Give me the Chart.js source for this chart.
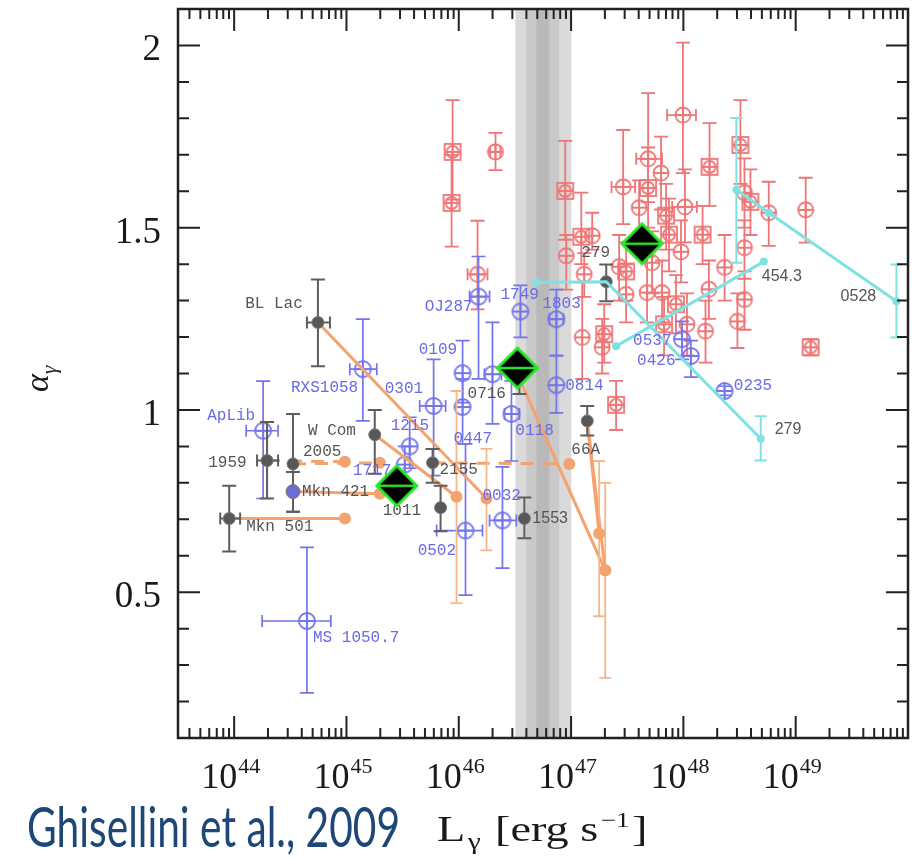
<!DOCTYPE html>
<html>
<head>
<meta charset="utf-8">
<script src="https://cdn.jsdelivr.net/npm/chart.js@4.4.1/dist/chart.umd.min.js"></script>
<style>
  html, body { margin: 0; padding: 0; background: #fff; }
  #wrap { position: relative; width: 922px; height: 859px; }
</style>
</head>
<body>
<div id="wrap"><canvas id="myChart"></canvas></div>
<script>
// x axis is log10(L_gamma), y axis is alpha_gamma
const xMin = 43.5, xMax = 50;
const yMin = 0.1, yMax = 2.1;
const xTickVals = [44, 45, 46, 47, 48, 49];
const yTickVals = [0.5, 1, 1.5, 2];
const yTickLabels = ['0.5', '1', '1.5', '2'];

// grey band (log10 L)
const bandLo = [46.504, 46.602, 46.691];
const bandHi = [47.002, 46.895, 46.806];

// FSRQs (red)
const redX  = [45.945, 45.936, 46.327, 46.167, 46.948, 46.957, 47.091, 47.188, 47.117, 47.099, 47.295, 47.277, 47.401, 47.428, 47.464, 47.490, 47.490, 47.606, 47.686, 47.686, 47.801, 47.846, 47.872, 47.677, 47.721, 47.810, 47.934, 47.979, 47.996, 48.014, 48.171, 48.233, 48.367, 48.508, 48.544, 48.597, 48.544, 48.760, 49.089, 49.133, 48.544, 48.481, 48.197, 48.032, 47.828, 48.227];
const redY  = [1.708, 1.568, 1.708, 1.372, 1.601, 1.423, 1.475, 1.478, 1.372, 1.199, 1.208, 1.172, 1.014, 1.393, 1.612, 1.317, 1.380, 1.555, 1.689, 1.609, 1.650, 1.533, 1.481, 1.322, 1.404, 1.322, 1.290, 1.434, 1.809, 1.557, 1.481, 1.667, 1.391, 1.727, 1.596, 1.571, 1.445, 1.541, 1.549, 1.172, 1.303, 1.243, 1.216, 1.235, 1.235, 1.331];
const redLo = [1.577, 1.448, 1.658, 1.276, 1.467, 1.330, 1.400, 1.440, 1.310, 1.085, 1.130, 1.100, 0.945, 1.300, 1.510, 1.240, 1.300, 1.470, 1.570, 1.500, 1.550, 1.440, 1.380, 1.240, 1.320, 1.240, 1.210, 1.350, 1.650, 1.460, 1.400, 1.560, 1.300, 1.620, 1.500, 1.480, 1.360, 1.450, 1.459, 1.150, 1.220, 1.170, 1.130, 1.150, 1.150, 1.250];
const redHi = [1.850, 1.700, 1.760, 1.519, 1.738, 1.480, 1.596, 1.541, 1.430, 1.350, 1.290, 1.250, 1.080, 1.480, 1.768, 1.400, 1.460, 1.630, 1.869, 1.720, 1.750, 1.620, 1.580, 1.420, 1.490, 1.410, 1.370, 1.520, 2.008, 1.660, 1.560, 1.787, 1.480, 1.850, 1.690, 1.660, 1.520, 1.626, 1.637, 1.194, 1.380, 1.320, 1.300, 1.320, 1.310, 1.410];
const redXLo = [null, null, 46.28, 46.078, null, null, null, null, null, null, null, null, null, null, 47.36, null, null, null, 47.58, null, null, null, null, null, null, null, null, null, 47.855, 47.90, null, null, null, null, null, null, null, null, null, null, null, null, null, null, null, null];
const redXHi = [null, null, 46.37, 46.256, null, null, null, null, null, null, null, null, null, null, 47.57, null, null, null, 47.81, null, null, null, null, null, null, null, null, null, 48.112, 48.12, null, null, null, null, null, null, null, null, null, null, null, null, null, null, null, null];
const redSquare = [1, 1, 0, 0, 1, 0, 1, 0, 0, 0, 1, 0, 1, 0, 0, 0, 1, 0, 0, 1, 0, 1, 1, 0, 0, 0, 1, 0, 0, 0, 1, 1, 0, 1, 0, 1, 0, 0, 0, 1, 0, 0, 0, 0, 1, 0];

// BL Lacs (blue)
const blueX  = [44.258, 44.648, 45.146, 45.776, 46.034, 46.034, 45.563, 45.519, 46.176, 46.549, 46.300, 46.469, 46.389, 46.060, 46.869, 46.869, 47.988, 48.067, 48.367];
const blueY  = [0.943, 0.421, 1.112, 1.011, 1.101, 1.008, 0.900, 0.850, 1.311, 1.270, 1.098, 0.989, 0.697, 0.669, 1.249, 1.068, 1.194, 1.148, 1.052];
const blueLo = [0.757, 0.224, 0.970, 0.820, 1.020, 0.907, 0.840, 0.800, 1.085, 1.199, 0.962, 0.860, 0.566, 0.492, 1.148, 0.992, 1.139, 1.090, 1.040];
const blueHi = [1.079, 0.623, 1.249, 1.139, 1.190, 1.085, 0.980, 0.900, 1.421, 1.342, 1.240, 1.080, 0.844, 0.907, 1.330, 1.150, 1.243, 1.190, 1.065];
const blueXLo = [44.107, 44.249, 45.030, 45.652, null, null, null, null, 46.096, null, 46.229, 46.407, 46.274, 45.803, 46.807, null, null, null, null];
const blueXHi = [44.391, 44.861, 45.270, 45.883, null, null, null, null, 46.274, null, 46.380, 46.540, 46.513, 46.211, 46.931, null, null, null, null];

// TeV / other sources (dark grey), last one is Mkn 421
const greyX  = [44.746, 45.252, 44.293, 44.524, 43.956, 45.767, 45.838, 46.584, 47.144, 47.313, 46.540, 44.524];
const greyY  = [1.240, 0.932, 0.861, 0.852, 0.702, 0.855, 0.732, 0.702, 0.970, 1.352, 1.085, 0.776];
const greyLo = [1.120, 0.825, 0.757, 0.721, 0.612, 0.800, 0.667, 0.648, 0.930, 1.298, 1.044, 0.721];
const greyHi = [1.358, 1.000, 0.967, 0.989, 0.792, 0.893, 0.792, 0.760, 1.011, 1.399, 1.130, 0.830];
const greyXLo = [44.648, null, 44.204, null, 43.876, null, null, null, null, null, null, null];
const greyXHi = [44.853, null, 44.391, null, 44.053, null, null, null, null, null, null, null];

// orange tracks: from a source to a second state
const orFromX = [44.746, 45.252, 44.293, 44.524, 45.767, 44.524, 43.956, 47.144, 47.144, 46.540];
const orFromY = [1.240, 0.932, 0.861, 0.852, 0.855, 0.776, 0.702, 0.970, 0.970, 1.085];
const orToX   = [46.247, 45.980, 44.986, 45.297, 46.984, 45.297, 44.986, 47.250, 47.304, 47.304];
const orToY   = [0.757, 0.762, 0.858, 0.855, 0.852, 0.770, 0.702, 0.661, 0.560, 0.560];
const orToLo  = [0.615, 0.470, null, null, null, null, null, 0.434, 0.265, null];
const orToHi  = [0.893, 1.052, null, null, null, null, null, 0.860, 0.800, null];
const orDashed = [0, 0, 1, 1, 1, 0, 0, 0, 0, 0];

// cyan tracks
const cy279X = [46.691, 47.313, 48.689];
const cy279Y = [1.350, 1.352, 0.921];
const cy279Lo = [null, null, 0.861];
const cy279Hi = [null, null, 0.983];
const cy454X = [47.401, 48.716];
const cy454Y = [1.175, 1.407];
const cy0528X = [48.472, 48.760, 49.897];
const cy0528Y = [1.604, 1.541, 1.298];
const cy0528Lo = [1.404, null, 1.199];
const cy0528Hi = [1.801, null, 1.399];

// averages (black diamonds)
const diaX = [45.448, 46.522, 47.632];
const diaY = [0.792, 1.115, 1.456];

// source names: g = grey mono, b = blue mono, s = grey sans
const labText = ['BL Lac', 'W Com', '2005', '1959', 'Mkn 421', 'Mkn 501', '1011', '2155', '0716', '66A', '279',
  '1553', '454.3', '0528', '279',
  'ApLib', 'RXS1058', 'MS 1050.7', '0301', '1215', '1717', '0109', 'OJ287', '1749', '0447', '0118', '0032', '0502', '1803', '0814', '0537', '0426', '0235'];
const labX = [44.098, 44.657, 44.613, 43.769, 44.604, 44.107, 45.323, 45.829, 46.078, 47.002, 47.091,
  46.655, 48.698, 49.400, 48.813,
  43.760, 44.506, 44.702, 45.341, 45.394, 45.057, 45.643, 45.696, 46.371, 45.954, 46.504, 46.211, 45.634, 46.744, 46.948, 47.552, 47.588, 48.449];
const labY = [1.292, 0.943, 0.885, 0.855, 0.776, 0.680, 0.724, 0.836, 1.044, 0.891, 1.432,
  0.702, 1.366, 1.311, 0.945,
  0.984, 1.060, 0.374, 1.057, 0.956, 0.833, 1.164, 1.284, 1.317, 0.921, 0.943, 0.765, 0.615, 1.292, 1.066, 1.189, 1.134, 1.066];
const labKind = ['g', 'g', 'g', 'g', 'g', 'g', 'g', 'g', 'g', 'g', 'g',
  's', 's', 's', 's',
  'b', 'b', 'b', 'b', 'b', 'b', 'b', 'b', 'b', 'b', 'b', 'b', 'b', 'b', 'b', 'b', 'b', 'b'];

const RED = '#ee7676';
const BLUE = '#7474ec';
const GREY = '#585858';
const ORANGE = '#f5a36e';
const CYAN = '#7ee2e2';

// marker images
function makeMarker(size, draw) {
  const c = document.createElement('canvas');
  c.width = size; c.height = size;
  const g = c.getContext('2d');
  draw(g, size / 2);
  return c;
}
const redCircle = makeMarker(20, function (g, m) {
  g.strokeStyle = RED; g.lineWidth = 1.8;
  g.beginPath(); g.arc(m, m, 7.5, 0, Math.PI * 2); g.stroke();
  g.beginPath(); g.moveTo(m - 7.5, m); g.lineTo(m + 7.5, m); g.moveTo(m, m - 7.5); g.lineTo(m, m + 7.5); g.stroke();
});
const redBox = makeMarker(20, function (g, m) {
  g.strokeStyle = RED; g.lineWidth = 1.8;
  g.strokeRect(m - 8, m - 8, 16, 16);
  g.beginPath(); g.arc(m, m, 6, 0, Math.PI * 2); g.stroke();
  g.beginPath(); g.moveTo(m - 8, m); g.lineTo(m + 8, m); g.moveTo(m, m - 8); g.lineTo(m, m + 8); g.stroke();
});
const blueCircle = makeMarker(22, function (g, m) {
  g.strokeStyle = BLUE; g.lineWidth = 1.8;
  g.beginPath(); g.arc(m, m, 8, 0, Math.PI * 2); g.stroke();
  g.beginPath(); g.moveTo(m - 8, m); g.lineTo(m + 8, m); g.moveTo(m, m - 8); g.lineTo(m, m + 8); g.stroke();
});
const diamond = makeMarker(48, function (g, m) {
  g.beginPath();
  g.moveTo(m, m - 20); g.lineTo(m + 20, m); g.lineTo(m, m + 20); g.lineTo(m - 20, m); g.closePath();
  g.fillStyle = '#000'; g.fill();
  g.strokeStyle = '#28e628'; g.lineWidth = 3; g.stroke();
  g.beginPath(); g.moveTo(m - 20, m); g.lineTo(m + 20, m); g.lineWidth = 2.5; g.stroke();
});

function pts(xs, ys) {
  return xs.map(function (x, i) { return { x: x, y: ys[i] }; });
}

const datasets = [];
datasets.push({
  label: 'average', data: pts(diaX, diaY), pointStyle: diamond, pointRadius: 22, order: 0, isDiamonds: true
});
[[cy279X, cy279Y, cy279Lo, cy279Hi, [4, 0, 4]], [cy454X, cy454Y, null, null, [4, 4]], [cy0528X, cy0528Y, cy0528Lo, cy0528Hi, [4, 4, 4]]]
  .forEach(function (t) {
    datasets.push({
      label: 'cyan', data: pts(t[0], t[1]), showLine: true, borderColor: CYAN, borderWidth: 3,
      pointRadius: t[4], pointStyle: 'circle', pointBackgroundColor: CYAN, pointBorderWidth: 0,
      errLo: t[2], errHi: t[3], errColor: CYAN, errWidth: 2, cap: 6, order: 1
    });
  });
datasets.push({
  label: 'grey', data: pts(greyX, greyY),
  pointStyle: 'circle', pointRadius: greyX.map(function (v, i) { return i === greyX.length - 1 ? 7 : 6; }),
  pointBackgroundColor: greyX.map(function (v, i) { return i === greyX.length - 1 ? '#6c6cd2' : GREY; }),
  pointBorderColor: '#777', pointBorderWidth: 1,
  errLo: greyLo, errHi: greyHi, xLo: greyXLo, xHi: greyXHi, errColor: '#5e5e5e', errWidth: 2, cap: 7, order: 2
});
orFromX.forEach(function (fx, i) {
  datasets.push({
    label: 'orange', data: [{ x: fx, y: orFromY[i] }, { x: orToX[i], y: orToY[i] }],
    showLine: true, borderColor: ORANGE, borderWidth: 3, borderDash: orDashed[i] ? [13, 9] : [],
    pointRadius: [0, 6], pointStyle: 'circle', pointBackgroundColor: ORANGE, pointBorderWidth: 0,
    errLo: [null, orToLo[i]], errHi: [null, orToHi[i]], errColor: '#f7b68a', errWidth: 1.8, cap: 6, order: 3
  });
});
datasets.push({
  label: 'BL Lacs', data: pts(blueX, blueY), pointStyle: blueCircle, pointRadius: 9,
  errLo: blueLo, errHi: blueHi, xLo: blueXLo, xHi: blueXHi, errColor: BLUE, errWidth: 1.7, cap: 7, order: 4
});
datasets.push({
  label: 'FSRQs', data: pts(redX, redY), pointRadius: 9,
  pointStyle: redSquare.map(function (s) { return s ? redBox : redCircle; }),
  errLo: redLo, errHi: redHi, xLo: redXLo, xHi: redXHi, errColor: RED, errWidth: 1.8, cap: 7, order: 5
});

function drawLabels(chart) {
  const ctx = chart.ctx, sx = chart.scales.x, sy = chart.scales.y;
  ctx.save();
  ctx.textBaseline = 'middle';
  ctx.textAlign = 'left';
  labText.forEach(function (t, i) {
    const k = labKind[i];
    ctx.font = k === 's' ? '16px "Liberation Sans"' : '16px "Liberation Mono"';
    ctx.fillStyle = k === 'b' ? '#6a6ae6' : '#555';
    ctx.fillText(t, sx.getPixelForValue(labX[i]), sy.getPixelForValue(labY[i]));
  });
  ctx.restore();
}

const errorBars = {
  id: 'errorBars',
  beforeDatasetsDraw(chart) {
    const ctx = chart.ctx, a = chart.chartArea, sx = chart.scales.x;
    const shades = ['#dadada', '#c9c9c9', '#b9b9b9'];
    ctx.save();
    bandLo.forEach(function (lo, i) {
      const x0 = sx.getPixelForValue(lo), x1 = sx.getPixelForValue(bandHi[i]);
      ctx.fillStyle = shades[i];
      ctx.fillRect(x0, a.top, x1 - x0, a.bottom - a.top);
    });
    ctx.restore();
  },
  beforeDatasetDraw(chart, args) {
    const ds = chart.data.datasets[args.index];
    if (ds.isDiamonds) drawLabels(chart);
    if (!ds.errLo && !ds.xLo) return;
    const ctx = chart.ctx, sx = chart.scales.x, sy = chart.scales.y;
    ctx.save();
    ctx.strokeStyle = ds.errColor;
    ctx.lineWidth = ds.errWidth;
    ds.data.forEach(function (p, i) {
      const px = sx.getPixelForValue(p.x), py = sy.getPixelForValue(p.y);
      ctx.beginPath();
      if (ds.errLo && ds.errLo[i] != null) {
        const y0 = sy.getPixelForValue(ds.errLo[i]), y1 = sy.getPixelForValue(ds.errHi[i]);
        ctx.moveTo(px, y0); ctx.lineTo(px, y1);
        ctx.moveTo(px - ds.cap, y0); ctx.lineTo(px + ds.cap, y0);
        ctx.moveTo(px - ds.cap, y1); ctx.lineTo(px + ds.cap, y1);
      }
      if (ds.xLo && ds.xLo[i] != null) {
        const x0 = sx.getPixelForValue(ds.xLo[i]), x1 = sx.getPixelForValue(ds.xHi[i]);
        ctx.moveTo(x0, py); ctx.lineTo(x1, py);
        ctx.moveTo(x0, py - 6); ctx.lineTo(x0, py + 6);
        ctx.moveTo(x1, py - 6); ctx.lineTo(x1, py + 6);
      }
      ctx.stroke();
    });
    ctx.restore();
  }
};

const frame = {
  id: 'frame',
  afterDraw(chart) {
    const ctx = chart.ctx, a = chart.chartArea, sx = chart.scales.x, sy = chart.scales.y;
    function seg(x0, y0, x1, y1) { ctx.moveTo(x0, y0); ctx.lineTo(x1, y1); }
    ctx.save();
    ctx.strokeStyle = '#222';
    ctx.lineWidth = 2;
    ctx.beginPath();
    for (let n = 43; n <= 49; n++) {
      for (let k = 1; k <= 9; k++) {
        const v = n + Math.log10(k);
        if (v <= xMin || v >= xMax) continue;
        const px = sx.getPixelForValue(v), len = k === 1 ? 22 : 10;
        seg(px, a.bottom, px, a.bottom - len);
        seg(px, a.top, px, a.top + len);
      }
    }
    for (let i = 2; i <= 20; i++) {
      const py = sy.getPixelForValue(i / 10), len = i % 5 === 0 ? 22 : 11;
      seg(a.left, py, a.left + len, py);
      seg(a.right, py, a.right - len, py);
    }
    ctx.stroke();
    ctx.lineWidth = 2.5;
    ctx.strokeRect(a.left, a.top, a.right - a.left, a.bottom - a.top);

    // tick labels
    ctx.fillStyle = '#1a1a1a';
    ctx.textBaseline = 'alphabetic';
    ctx.textAlign = 'right';
    ctx.font = '37px "Liberation Serif"';
    yTickVals.forEach(function (v, i) {
      ctx.fillText(yTickLabels[i], 161, sy.getPixelForValue(v) + 15);
    });
    ctx.textAlign = 'left';
    xTickVals.forEach(function (v) {
      const px = sx.getPixelForValue(v);
      ctx.font = '36px "Liberation Serif"';
      const w1 = ctx.measureText('10').width;
      ctx.font = '22px "Liberation Serif"';
      const w2 = ctx.measureText(String(v)).width;
      const x0 = px - 4 - (w1 + w2) / 2;
      ctx.font = '36px "Liberation Serif"';
      ctx.fillText('10', x0, 788);
      ctx.font = '22px "Liberation Serif"';
      ctx.fillText(String(v), x0 + w1 + 1, 773);
    });

    // y title: alpha_gamma
    ctx.save();
    ctx.translate(48, 392);
    ctx.rotate(-Math.PI / 2);
    ctx.font = 'italic 34px "Liberation Serif"';
    ctx.fillText('\u03b1', 0, 0);
    const wa = ctx.measureText('\u03b1').width;
    ctx.font = 'italic 22px "Liberation Serif"';
    ctx.fillText('\u03b3', wa, 8);
    ctx.restore();

    // x title: L_gamma [erg s^-1]
    const parts = [['L', 36, 0], ['\u03b3', 23, 8], [' [erg s', 36, 0], ['\u22121', 21, -14], [']', 36, 0]];
    let tw = 0;
    parts.forEach(function (p) { ctx.font = p[1] + 'px "Liberation Serif"'; tw += ctx.measureText(p[0]).width + 2; });
    ctx.save();
    ctx.translate(437, 841);
    ctx.scale(213 / tw, 1);
    let cx = 0;
    parts.forEach(function (p) {
      ctx.font = p[1] + 'px "Liberation Serif"';
      ctx.fillText(p[0], cx, p[2]);
      cx += ctx.measureText(p[0]).width + 2;
    });
    ctx.restore();

    // citation
    ctx.font = '56px Lato';
    ctx.fillStyle = '#1d4777';
    const cite = 'Ghisellini et al., 2009';
    const cw = ctx.measureText(cite).width;
    ctx.save();
    ctx.translate(27, 847);
    ctx.scale(373 / cw, 1);
    ctx.fillText(cite, 0, 0);
    ctx.restore();
    ctx.restore();
  }
};

new Chart(document.getElementById('myChart'), {
  type: 'scatter',
  data: { datasets: datasets },
  options: {
    responsive: true,
    maintainAspectRatio: false,
    animation: false,
    events: [],
    layout: { autoPadding: false, padding: { top: 9, right: 14, bottom: 0, left: 0 } },
    plugins: { legend: { display: false }, tooltip: { enabled: false } },
    scales: {
      x: {
        type: 'linear', min: xMin, max: xMax,
        grid: { display: false }, border: { display: false }, ticks: { display: false },
        afterFit: function (s) { s.height = 121; }
      },
      y: {
        type: 'linear', min: yMin, max: yMax,
        grid: { display: false }, border: { display: false }, ticks: { display: false },
        afterFit: function (s) { s.width = 178; }
      }
    }
  },
  plugins: [errorBars, frame]
});
</script>
</body>
</html>
